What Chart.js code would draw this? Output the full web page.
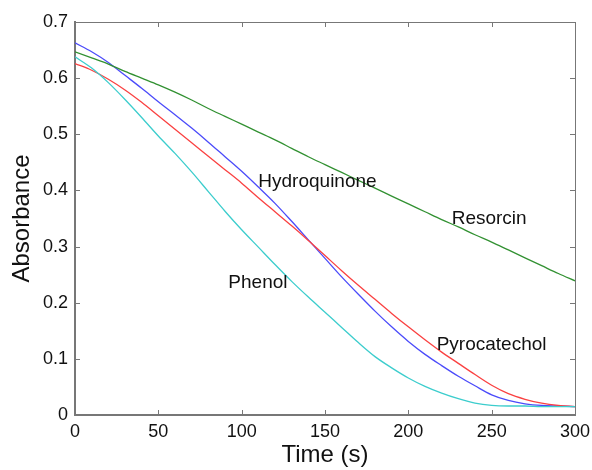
<!DOCTYPE html>
<html>
<head>
<meta charset="utf-8">
<script src="https://cdn.jsdelivr.net/npm/chart.js@4"></script>
<style>
  html, body { margin: 0; padding: 0; background: #fff; }
  #wrap { width: 592px; height: 470px; }
</style>
</head>
<body>
<div id="wrap"><canvas id="absChart" width="592" height="470"></canvas></div>
<script>
// time axis (s)
const times = [0, 10, 20, 30, 40, 50, 60, 70, 80, 90, 100, 110, 120, 130, 140, 150,
  160, 170, 180, 190, 200, 210, 220, 230, 240, 250, 260, 270, 280, 290, 300];

// absorbance readings
const hydroquinone = [0.663, 0.647, 0.628, 0.605, 0.582, 0.558, 0.535, 0.511, 0.486, 0.460, 0.434,
  0.406, 0.377, 0.345, 0.312, 0.279, 0.246, 0.215, 0.185, 0.157, 0.131,
  0.108, 0.088, 0.069, 0.052, 0.036, 0.026, 0.020, 0.017, 0.016, 0.015];
const pyrocatechol = [0.626, 0.614, 0.598, 0.579, 0.557, 0.533, 0.509, 0.485, 0.461, 0.437, 0.413,
  0.387, 0.362, 0.337, 0.311, 0.284, 0.257, 0.231, 0.206, 0.181, 0.157,
  0.134, 0.112, 0.092, 0.072, 0.053, 0.038, 0.028, 0.021, 0.017, 0.015];
const resorcin = [0.647, 0.636, 0.625, 0.612, 0.600, 0.588, 0.575, 0.561, 0.546, 0.532, 0.518,
  0.504, 0.490, 0.475, 0.460, 0.446, 0.432, 0.418, 0.404, 0.390, 0.376,
  0.362, 0.348, 0.335, 0.321, 0.308, 0.294, 0.280, 0.266, 0.252, 0.239];
const phenol = [0.638, 0.618, 0.592, 0.562, 0.530, 0.497, 0.466, 0.433, 0.398, 0.363, 0.330,
  0.299, 0.268, 0.238, 0.210, 0.183, 0.156, 0.129, 0.104, 0.084, 0.066,
  0.051, 0.039, 0.029, 0.021, 0.017, 0.016, 0.016, 0.015, 0.015, 0.015];

const xTicks = [0, 50, 100, 150, 200, 250, 300];
const yTicks = [0, 0.1, 0.2, 0.3, 0.4, 0.5, 0.6, 0.7];

// curve labels placed in data coordinates (left edge, middle)
const labelNames = ['Hydroquinone', 'Resorcin', 'Phenol', 'Pyrocatechol'];
const labelX = [110, 226, 92, 217];
const labelY = [0.415, 0.349, 0.235, 0.125];

const FONT = 'Arial, "Liberation Sans", sans-serif';

function toPoints(ys) {
  return times.map((t, i) => ({x: t, y: ys[i]}));
}

// box on top/right + inward ticks + curve labels
const matlabBox = {
  id: 'matlabBox',
  afterDraw(chart) {
    const {ctx, chartArea: a, scales} = chart;
    const xs = scales.x, ys = scales.y;
    ctx.save();
    ctx.strokeStyle = '#777';
    ctx.lineWidth = 1;
    ctx.beginPath();
    ctx.moveTo(a.left, a.top + 0.5);
    ctx.lineTo(a.right + 0.5, a.top + 0.5);
    ctx.lineTo(a.right + 0.5, a.bottom);
    ctx.stroke();

    ctx.beginPath();
    xTicks.forEach(v => {
      const px = Math.round(xs.getPixelForValue(v)) + 0.5;
      ctx.moveTo(px, a.bottom); ctx.lineTo(px, a.bottom - 5);
      ctx.moveTo(px, a.top); ctx.lineTo(px, a.top + 5);
    });
    yTicks.forEach(v => {
      const py = Math.round(ys.getPixelForValue(v)) + 0.5;
      ctx.moveTo(a.left, py); ctx.lineTo(a.left + 5, py);
      ctx.moveTo(a.right, py); ctx.lineTo(a.right - 5, py);
    });
    ctx.stroke();

    ctx.fillStyle = '#111';
    ctx.font = '19px ' + FONT;
    ctx.textAlign = 'left';
    ctx.textBaseline = 'middle';
    labelNames.forEach((name, i) => {
      ctx.fillText(name, xs.getPixelForValue(labelX[i]), ys.getPixelForValue(labelY[i]));
    });
    ctx.restore();
  }
};

const lineStyle = {
  borderWidth: 1.3,
  pointRadius: 0,
  fill: false,
  cubicInterpolationMode: 'monotone'
};

new Chart(document.getElementById('absChart').getContext('2d'), {
  type: 'line',
  data: {
    datasets: [
      Object.assign({label: 'Resorcin', data: toPoints(resorcin), borderColor: 'rgb(50,145,50)'}, lineStyle),
      Object.assign({label: 'Phenol', data: toPoints(phenol), borderColor: 'rgb(60,205,205)'}, lineStyle),
      Object.assign({label: 'Pyrocatechol', data: toPoints(pyrocatechol), borderColor: 'rgb(250,65,65)'}, lineStyle),
      Object.assign({label: 'Hydroquinone', data: toPoints(hydroquinone), borderColor: 'rgb(75,75,250)'}, lineStyle)
    ]
  },
  options: {
    responsive: false,
    animation: false,
    layout: {padding: {top: 22, right: 17, left: 0, bottom: 0}},
    plugins: {
      legend: {display: false},
      tooltip: {enabled: false}
    },
    scales: {
      x: {
        type: 'linear',
        min: 0,
        max: 300,
        afterFit(scale) {
          scale.height = 55;
          scale.paddingLeft = 0;
          scale.paddingRight = 0;
        },
        afterBuildTicks(scale) { scale.ticks = xTicks.map(v => ({value: v})); },
        grid: {display: true, drawOnChartArea: false, drawTicks: false},
        border: {color: '#777', width: 2},
        ticks: {
          color: '#111',
          padding: 6,
          maxRotation: 0,
          font: {family: FONT, size: 18}
        },
        title: {
          display: true,
          text: 'Time (s)',
          color: '#111',
          padding: {top: 0, bottom: 0},
          font: {family: FONT, size: 24}
        }
      },
      y: {
        min: 0,
        max: 0.7,
        afterFit(scale) {
          scale.width = 75;
          scale.paddingTop = 0;
          scale.paddingBottom = 0;
        },
        afterBuildTicks(scale) { scale.ticks = yTicks.map(v => ({value: v})); },
        grid: {display: true, drawOnChartArea: false, drawTicks: false},
        border: {color: '#777', width: 2},
        ticks: {
          color: '#111',
          padding: 7,
          font: {family: FONT, size: 18},
          callback: v => (v === 0 ? '0' : v.toFixed(1))
        },
        title: {
          display: true,
          text: 'Absorbance',
          color: '#111',
          padding: {top: 8, bottom: 0},
          font: {family: FONT, size: 24}
        }
      }
    }
  },
  plugins: [matlabBox]
});
</script>
</body>
</html>
